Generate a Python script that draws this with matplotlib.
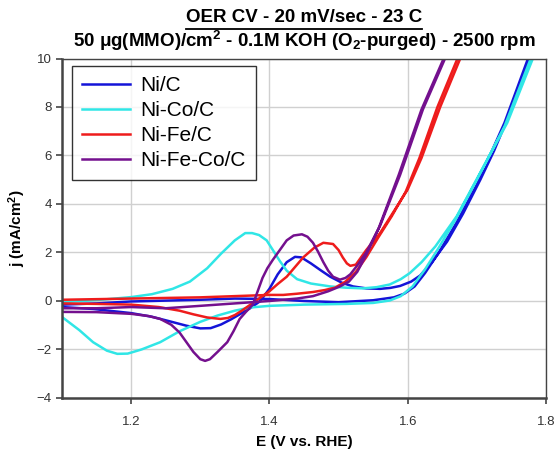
import numpy as np
import matplotlib
matplotlib.use("Agg")
import matplotlib.pyplot as plt
from matplotlib.lines import Line2D

plt.rcParams["font.family"] = ["Liberation Sans", "DejaVu Sans"]
plt.rcParams["mathtext.fontset"] = "custom"
plt.rcParams["mathtext.rm"] = "Liberation Sans:bold"
plt.rcParams["mathtext.bf"] = "Liberation Sans:bold"
plt.rcParams["mathtext.it"] = "Liberation Sans:bold"

# Ni/C  (E in V vs RHE, j in mA/cm2)
ni_e = [1.10, 1.145, 1.20, 1.23, 1.256, 1.28, 1.30, 1.315, 1.33, 1.345, 1.357,
        1.372, 1.386, 1.40, 1.412, 1.425, 1.437, 1.446, 1.46, 1.475, 1.488,
        1.505, 1.521, 1.54, 1.56, 1.575, 1.589, 1.605, 1.618, 1.635, 1.657,
        1.68, 1.705, 1.725, 1.744, 1.777,
        1.774, 1.74, 1.70, 1.67, 1.645, 1.625, 1.61, 1.595, 1.58, 1.55, 1.50,
        1.45, 1.40, 1.35, 1.30, 1.20, 1.15, 1.10]
ni_j = [-0.25, -0.33, -0.5, -0.65, -0.84, -1.02, -1.13, -1.12, -0.97, -0.75, -0.55,
        -0.3, -0.02, 0.5, 1.1, 1.6, 1.82, 1.8, 1.55, 1.25, 1.0,
        0.75, 0.6, 0.52, 0.5, 0.54, 0.62, 0.8, 1.05, 1.6, 2.45,
        3.6, 5.0, 6.2, 7.5, 10.0,
        10.0, 7.35, 4.8, 3.2, 2.0, 1.15, 0.6, 0.3, 0.15, 0.03, -0.05,
        0.0, 0.08, 0.1, 0.05, -0.02, -0.1, -0.15]

# Ni-Co/C
nico_e = [1.10, 1.13, 1.16, 1.20, 1.23, 1.26, 1.285, 1.31, 1.33, 1.35, 1.365,
          1.375, 1.385, 1.396, 1.405, 1.415, 1.425, 1.44, 1.46, 1.488, 1.51,
          1.535, 1.555, 1.574, 1.59, 1.603, 1.62, 1.64, 1.671, 1.705, 1.744, 1.781,
          1.778, 1.74, 1.70, 1.67, 1.645, 1.625, 1.607, 1.59, 1.574, 1.55, 1.512,
          1.45, 1.40, 1.372, 1.35, 1.325, 1.30, 1.27, 1.242, 1.215, 1.195, 1.18,
          1.165, 1.145, 1.125, 1.10]
nico_j = [-0.05, 0.0, 0.06, 0.16, 0.28, 0.5, 0.8, 1.35, 1.95, 2.5, 2.8,
          2.8, 2.72, 2.5, 2.1, 1.65, 1.25, 0.9, 0.72, 0.6, 0.55,
          0.52, 0.57, 0.68, 0.9, 1.15, 1.6, 2.25, 3.5, 5.3, 7.35, 10.0,
          10.0, 7.2, 5.0, 3.4, 2.2, 1.3, 0.6, 0.2, 0.02, -0.08, -0.12,
          -0.15, -0.2, -0.27, -0.4, -0.6, -0.86, -1.25, -1.7, -2.0, -2.17, -2.18,
          -2.05, -1.7, -1.2, -0.66]

# Ni-Fe/C
nife_e = [1.10, 1.15, 1.20, 1.24, 1.27, 1.29, 1.31, 1.329, 1.34, 1.35, 1.36,
          1.37, 1.385, 1.40, 1.412, 1.425, 1.437, 1.449, 1.465, 1.478, 1.492,
          1.50, 1.506, 1.512, 1.517, 1.525, 1.54, 1.56, 1.58, 1.60, 1.62, 1.647,
          1.676,
          1.672, 1.643, 1.617, 1.597, 1.577, 1.557, 1.54, 1.525, 1.51, 1.495,
          1.48, 1.463, 1.44, 1.42, 1.40, 1.35, 1.30, 1.20, 1.10]
nife_j = [-0.1, -0.12, -0.15, -0.25, -0.4, -0.55, -0.68, -0.74, -0.7, -0.58, -0.4,
          -0.2, 0.1, 0.4, 0.7, 1.0, 1.4, 1.8, 2.2, 2.4, 2.35,
          2.1, 1.8, 1.55, 1.45, 1.5, 2.1, 2.8, 3.7, 4.6, 5.9, 8.0,
          10.0,
          10.0, 8.0, 5.9, 4.5, 3.5, 2.6, 1.8, 1.2, 0.8, 0.55,
          0.45, 0.37, 0.3, 0.25, 0.25, 0.2, 0.15, 0.1, 0.05]

# Ni-Fe-Co/C
nifeco_e = [1.10, 1.15, 1.20, 1.225, 1.242, 1.258, 1.27, 1.28, 1.29, 1.30, 1.307,
            1.314, 1.325, 1.339, 1.348, 1.357, 1.366, 1.376, 1.383, 1.39, 1.397,
            1.405, 1.415, 1.425, 1.435, 1.447, 1.455, 1.463, 1.47, 1.478, 1.485,
            1.492, 1.502, 1.51, 1.517, 1.528, 1.54, 1.56, 1.589, 1.622, 1.654,
            1.652, 1.62, 1.587, 1.558, 1.54, 1.527, 1.515, 1.502, 1.485, 1.463,
            1.44, 1.40, 1.35, 1.30, 1.25, 1.20, 1.15, 1.10]
nifeco_j = [-0.45, -0.46, -0.53, -0.62, -0.74, -0.98, -1.3, -1.7, -2.1, -2.4, -2.47,
            -2.4, -2.1, -1.7, -1.25, -0.74, -0.45, -0.15, 0.4, 0.95, 1.35,
            1.7, 2.1, 2.5, 2.7, 2.75, 2.65, 2.4, 2.05, 1.6, 1.25,
            1.0, 0.88, 0.95, 1.1, 1.5, 2.0, 3.1, 5.2, 7.9, 10.0,
            10.0, 7.9, 5.2, 3.0, 1.9, 1.2, 0.8, 0.6, 0.4, 0.2,
            0.1, 0.0, -0.1, -0.2, -0.3, -0.25, -0.3, -0.3]

series = [
    ("Ni/C", ni_e, ni_j, "#1414d8"),
    ("Ni-Co/C", nico_e, nico_j, "#30e6e6"),
    ("Ni-Fe/C", nife_e, nife_j, "#ee1c1c"),
    ("Ni-Fe-Co/C", nifeco_e, nifeco_j, "#74108e"),
]

fig = plt.figure(figsize=(5.56, 4.5), dpi=100)
ax = fig.add_axes([0.1115, 0.1156, 0.8705, 0.7544])

for name, e, j, c in series:
    ax.plot(e, j, color=c, lw=1.8, label=name, solid_joinstyle="round")

ax.set_xlim(1.1, 1.8)
ax.set_ylim(-4, 10)
ax.set_xticks([1.2, 1.4, 1.6, 1.8])
ax.set_yticks(np.arange(-4, 11, 2))
ax.set_xticklabels(["1.2", "1.4", "1.6", "1.8"])
ax.grid(True, color="#d0d0d0", lw=1.0)
ax.set_axisbelow(True)
ax.tick_params(direction="out", length=4, width=1.2, colors="#444444",
               labelsize=9.5, labelcolor="#333333")
ax.tick_params(axis="x", pad=9)
for s in ["left", "bottom"]:
    ax.spines[s].set_linewidth(1.8)
    ax.spines[s].set_color("#444444")
for s in ["top", "right"]:
    ax.spines[s].set_linewidth(1.0)
    ax.spines[s].set_color("#444444")

ax.set_xlabel("E (V vs. RHE)", fontsize=11, fontweight="bold", labelpad=5)
ax.set_ylabel("j (mA/cm$^2$)", fontsize=11, fontweight="bold", labelpad=6)

leg = ax.legend(loc="upper left", bbox_to_anchor=(0.02, 0.978), borderaxespad=0,
                fontsize=15, frameon=True, fancybox=False, edgecolor="black",
                handlelength=2.3, labelspacing=0.28, borderpad=0.5,
                handletextpad=0.5)
leg.get_frame().set_linewidth(1.0)

cx = 0.1115 + 0.8705 / 2
t1 = fig.text(cx, 0.951, "OER CV - 20 mV/sec - 23 C", ha="center", va="baseline",
              fontsize=13.5, fontweight="bold")
fig.text(cx, 0.895, r"50 $\mu$g(MMO)/cm$^2$ - 0.1M KOH (O$_2$-purged) - 2500 rpm",
         ha="center", va="baseline", fontsize=13.5, fontweight="bold")

# underline the first title line
fig.canvas.draw()
bb = t1.get_window_extent().transformed(fig.transFigure.inverted())
fig.add_artist(Line2D([bb.x0, bb.x1], [bb.y0 - 0.006, bb.y0 - 0.006],
                      transform=fig.transFigure, color="black", lw=1.3))

fig.savefig("out.png", dpi=100)
